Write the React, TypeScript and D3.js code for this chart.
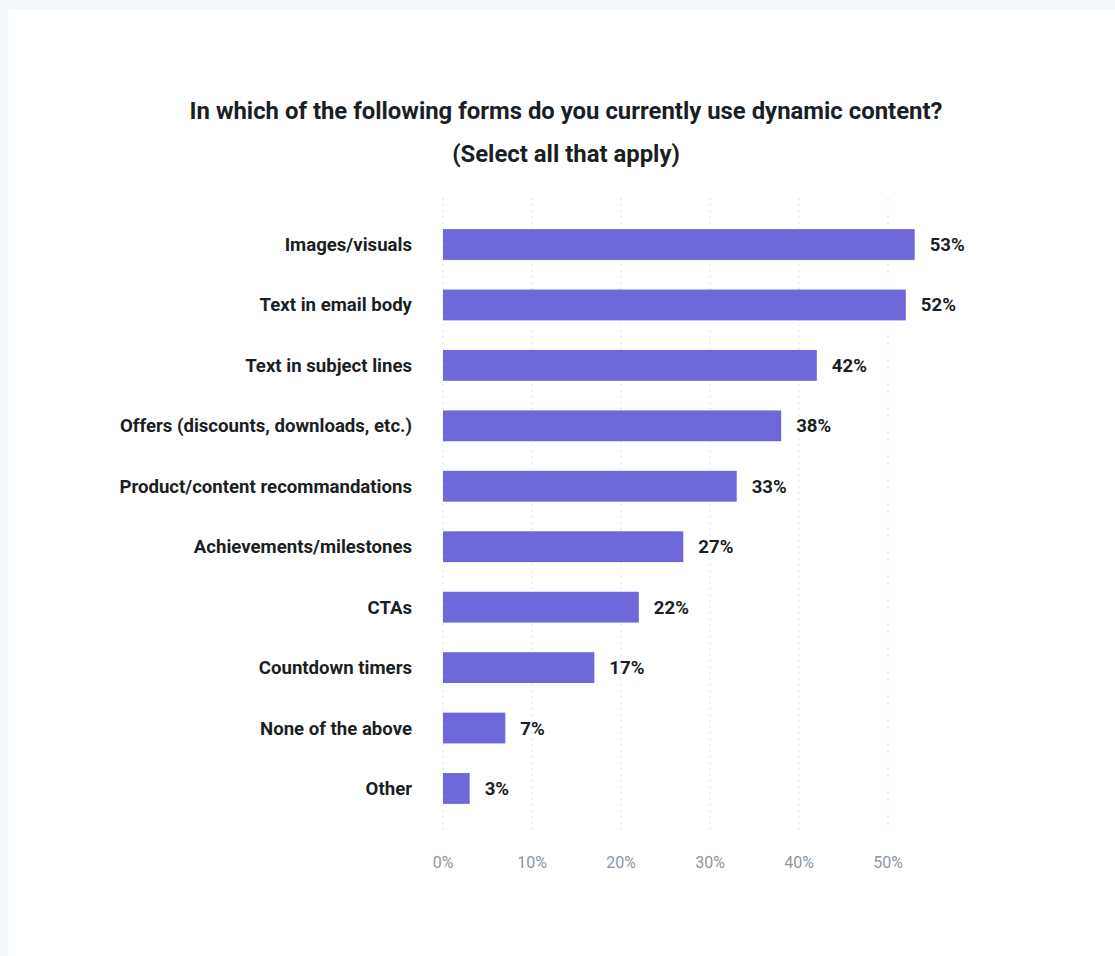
import React from "react";
import * as d3 from "d3";

const categories = [
  "Images/visuals",
  "Text in email body",
  "Text in subject lines",
  "Offers (discounts, downloads, etc.)",
  "Product/content recommandations",
  "Achievements/milestones",
  "CTAs",
  "Countdown timers",
  "None of the above",
  "Other",
];
const values = [53, 52, 42, 38, 33, 27, 22, 17, 7, 3];
const ticks = [0, 10, 20, 30, 40, 50];
const titleLines = [
  "In which of the following forms do you currently use dynamic content?",
  "(Select all that apply)",
];

export default function App() {
  const W = 1115;
  const H = 956;
  const x = d3.scaleLinear().domain([0, 50]).range([443, 888]);
  const y = d3
    .scaleBand<string>()
    .domain(categories)
    .range([214.3, 818.7])
    .paddingInner(0.49)
    .paddingOuter(0.245);
  const font = "Roboto, 'Noto Sans', sans-serif";
  return (
    <svg
      width={W}
      height={H}
      style={{ position: "absolute", left: 0, top: 0, display: "block" }}
    >
      <rect x={0} y={0} width={W} height={H} fill="#f3f7fa" />
      <rect x={8} y={10} width={W - 8} height={H - 10} fill="#ffffff" />
      <g fontFamily={font}>
        {titleLines.map((t, i) => (
          <text
            key={i}
            x={566}
            y={119 + i * 43}
            textAnchor="middle"
            fontSize={23.9}
            fontWeight={700}
            fill="#1b1f24"
          >
            {t}
          </text>
        ))}
        {ticks.map((t) => (
          <g key={t}>
            <line
              x1={x(t)}
              x2={x(t)}
              y1={198}
              y2={834}
              stroke="#dfe2e6"
              strokeWidth={1}
              strokeDasharray="2,4"
            />
            <text
              x={x(t)}
              y={868}
              textAnchor="middle"
              fontSize={16}
              fill="#8b96a2"
            >
              {t}%
            </text>
          </g>
        ))}
        {categories.map((c, i) => {
          const yy = y(c)!;
          const bw = y.bandwidth();
          return (
            <g key={c}>
              <rect
                x={x(0)}
                y={yy}
                width={x(values[i]) - x(0)}
                height={bw}
                fill="#6e67d9"
              />
              <text
                x={412}
                y={yy + bw / 2}
                dy="0.35em"
                textAnchor="end"
                fontSize={18.6}
                fontWeight={700}
                fill="#1b1f24"
              >
                {c}
              </text>
              <text
                x={x(values[i]) + 15}
                y={yy + bw / 2}
                dy="0.35em"
                fontSize={18.6}
                fontWeight={700}
                fill="#1b1f24"
              >
                {values[i]}%
              </text>
            </g>
          );
        })}
      </g>
    </svg>
  );
}
